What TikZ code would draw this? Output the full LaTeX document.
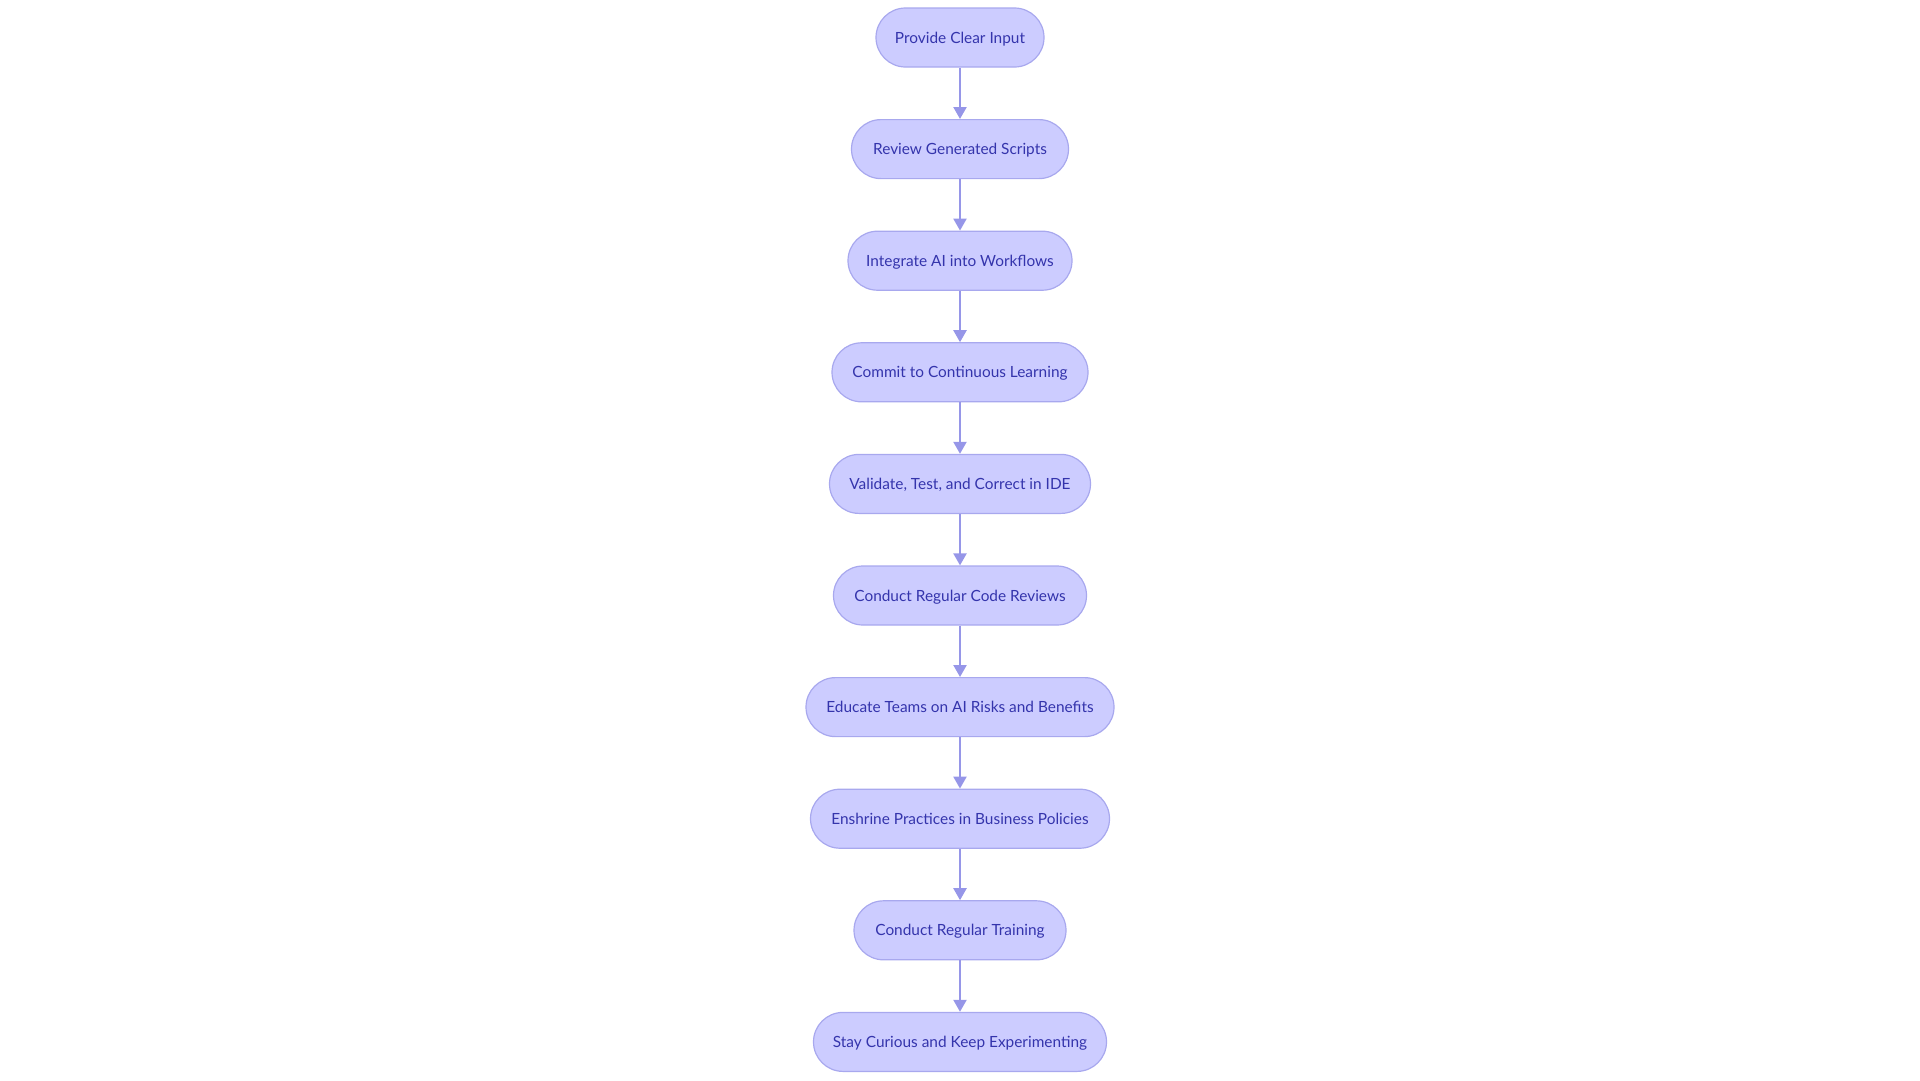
\documentclass[tikz,border=0pt]{standalone}
\usepackage{fontspec}
\setmainfont{Lato}
\usetikzlibrary{arrows.meta}
\definecolor{boxfill}{RGB}{204,204,255}
\definecolor{boxline}{RGB}{168,168,238}
\definecolor{arrowcol}{RGB}{150,150,232}
\definecolor{txtcol}{RGB}{52,52,172}
\tikzset{
  stepbox/.style={draw=boxline, line width=1.2pt, fill=boxfill, rounded corners=29.5pt,
    minimum height=59pt, inner sep=0pt, text=txtcol, text height=12.5pt, text depth=1.5pt,
    font=\fontsize{15.4pt}{18pt}\selectfont},
  flow/.style={draw=arrowcol, line width=2.2pt, -{Triangle[length=12pt,width=13pt]}}
}
\begin{document}
\begin{tikzpicture}[x=1pt,y=-1pt]
\useasboundingbox (0,0) rectangle (1920,1080);
\node[stepbox, minimum width=168pt] (n1) at (960,37.5) {Provide Clear Input};
\node[stepbox, minimum width=217pt] (n2) at (960,149.1) {Review Generated Scripts};
\node[stepbox, minimum width=224pt] (n3) at (960,260.7) {Integrate AI into Workflows};
\node[stepbox, minimum width=256pt] (n4) at (960,372.3) {Commit to Continuous Learning};
\node[stepbox, minimum width=261pt] (n5) at (960,483.9) {Validate, Test, and Correct in IDE};
\node[stepbox, minimum width=253pt] (n6) at (960,595.5) {Conduct Regular Code Reviews};
\node[stepbox, minimum width=308pt] (n7) at (960,707.1) {Educate Teams on AI Risks and Benefits};
\node[stepbox, minimum width=299pt] (n8) at (960,818.7) {Enshrine Practices in Business Policies};
\node[stepbox, minimum width=212pt] (n9) at (960,930.3) {Conduct Regular Training};
\node[stepbox, minimum width=293pt] (n10) at (960,1041.9) {Stay Curious and Keep Experimenting};
\foreach \a/\b in {n1/n2,n2/n3,n3/n4,n4/n5,n5/n6,n6/n7,n7/n8,n8/n9,n9/n10}
  \draw[flow] (\a) -- (\b);
\end{tikzpicture}
\end{document}
